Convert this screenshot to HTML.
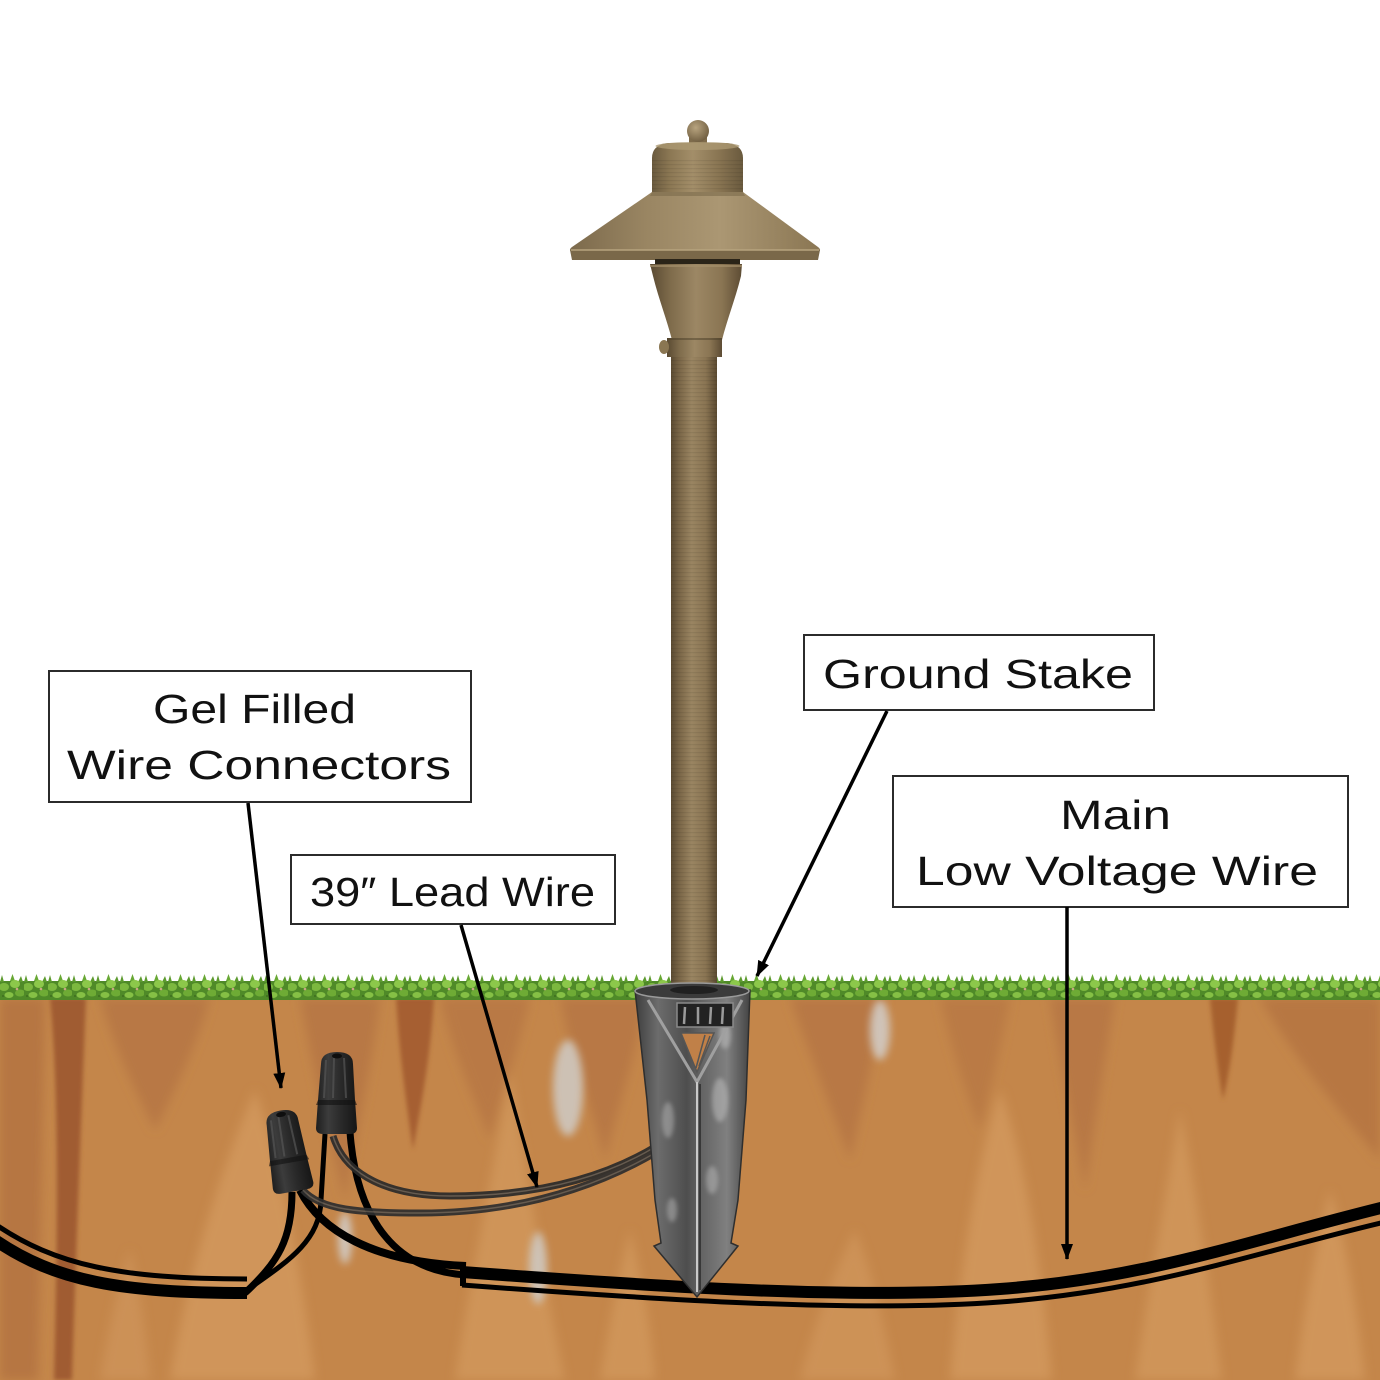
<!DOCTYPE html>
<html>
<head>
<meta charset="utf-8">
<style>
  html,body{margin:0;padding:0;background:#fff;}
  svg{display:block;}
  text{font-family:"Liberation Sans", Arial, sans-serif; fill:#111;}
</style>
</head>
<body>
<svg width="1380" height="1380" viewBox="0 0 1380 1380" xmlns="http://www.w3.org/2000/svg">
  <defs>
    <linearGradient id="brassH" x1="0" y1="0" x2="1" y2="0">
      <stop offset="0" stop-color="#5a4a32"/>
      <stop offset="0.22" stop-color="#7e6b4b"/>
      <stop offset="0.5" stop-color="#9c8764"/>
      <stop offset="0.78" stop-color="#8a7553"/>
      <stop offset="1" stop-color="#5d4c34"/>
    </linearGradient>
    <linearGradient id="capG" x1="0" y1="0" x2="1" y2="0">
      <stop offset="0" stop-color="#6a5a3e"/>
      <stop offset="0.2" stop-color="#8c7854"/>
      <stop offset="0.45" stop-color="#a38e69"/>
      <stop offset="0.75" stop-color="#877351"/>
      <stop offset="1" stop-color="#6a5a3e"/>
    </linearGradient>
    <linearGradient id="shadeG" x1="0" y1="0" x2="1" y2="0">
      <stop offset="0" stop-color="#7c6a4c"/>
      <stop offset="0.3" stop-color="#998562"/>
      <stop offset="0.6" stop-color="#ab9773"/>
      <stop offset="1" stop-color="#8a7653"/>
    </linearGradient>
    <linearGradient id="poleG" x1="0" y1="0" x2="1" y2="0">
      <stop offset="0" stop-color="#5b4b32"/>
      <stop offset="0.18" stop-color="#7a6647"/>
      <stop offset="0.45" stop-color="#9a8562"/>
      <stop offset="0.75" stop-color="#8a7553"/>
      <stop offset="1" stop-color="#5c4b32"/>
    </linearGradient>
    <radialGradient id="knobG" cx="0.4" cy="0.35" r="0.7">
      <stop offset="0" stop-color="#b8a47f"/>
      <stop offset="1" stop-color="#6e5c3f"/>
    </radialGradient>
    <pattern id="ridges" width="6" height="4" patternUnits="userSpaceOnUse">
      <rect x="0" y="0" width="6" height="1.2" fill="#000" opacity="0.07"/>
    </pattern>
    <linearGradient id="steelG" x1="0" y1="0" x2="1" y2="0">
      <stop offset="0" stop-color="#3e3e3e"/>
      <stop offset="0.2" stop-color="#6c6c6c"/>
      <stop offset="0.45" stop-color="#4e4e4e"/>
      <stop offset="0.55" stop-color="#606060"/>
      <stop offset="0.8" stop-color="#808080"/>
      <stop offset="1" stop-color="#444"/>
    </linearGradient>
    <linearGradient id="connG" x1="0" y1="0" x2="1" y2="0">
      <stop offset="0" stop-color="#1e1e1e"/>
      <stop offset="0.3" stop-color="#3c3c3c"/>
      <stop offset="0.6" stop-color="#2a2a2a"/>
      <stop offset="1" stop-color="#161616"/>
    </linearGradient>
    <pattern id="grass" x="0" y="972" width="24" height="28" patternUnits="userSpaceOnUse">
      <rect x="0" y="9" width="24" height="19" fill="#4f8a28"/>
      <polygon points="0,10 2,3 4,10" fill="#5c9a2e"/>
      <polygon points="10,9 12.5,2 15,9" fill="#68a834"/>
      <polygon points="18,10 21,4 23,10" fill="#5c9a2e"/>
      <ellipse cx="4" cy="15" rx="5" ry="4" fill="#7cb83f"/>
      <ellipse cx="15" cy="12" rx="5" ry="4" fill="#8cc84a"/>
      <ellipse cx="20" cy="21" rx="5" ry="3.5" fill="#6eab35"/>
      <ellipse cx="9" cy="23" rx="4.5" ry="3" fill="#85c045"/>
      <circle cx="17" cy="17" r="1.3" fill="#c9a784"/>
      <circle cx="3" cy="24" r="1" fill="#3d6e1e"/>
    </pattern>
    <filter id="blur2"><feGaussianBlur stdDeviation="2"/></filter>
    <filter id="blur5"><feGaussianBlur stdDeviation="5"/></filter>
    <filter id="blur4"><feGaussianBlur stdDeviation="4"/></filter>
    <marker id="ah" markerUnits="userSpaceOnUse" markerWidth="16" markerHeight="14" refX="15" refY="6" orient="auto">
      <path d="M0,0 L16,6 L0,12 Z" fill="#000"/>
    </marker>
    <g id="conn">
      <path d="M321,1064 Q321,1052 337,1052 Q353,1052 353,1064 L355,1100 L357,1128 Q357,1134 350,1134 L323,1134 Q316,1134 316,1128 L318,1100 Z" fill="url(#connG)"/>
      <path d="M318,1100 L355,1100 L357,1105 L316,1105 Z" fill="#111" opacity="0.6"/>
      <path d="M326,1060 L324,1098 M334,1058 L333,1098 M344,1058 L346,1098" stroke="#555" stroke-width="2" opacity="0.7"/>
      <ellipse cx="337" cy="1056" rx="5" ry="2.5" fill="#0e0e0e"/>
    </g>
  </defs>

  <!-- background -->
  <rect x="0" y="0" width="1380" height="1380" fill="#ffffff"/>

  <!-- soil -->
  <rect x="0" y="995" width="1380" height="385" fill="#c4864a"/>
  <g filter="url(#blur5)">
    <path d="M0,998 L45,998 C42,1150 40,1250 38,1380 L0,1380 Z" fill="#b67643"/>
    <path d="M100,998 L210,998 C195,1050 175,1090 155,1130 C135,1090 115,1050 100,998 Z" fill="#b87844"/>
    <path d="M300,998 L380,998 C370,1080 355,1140 345,1200 C330,1140 315,1080 300,998 Z" fill="#b87844"/>
    <path d="M440,998 L530,998 C515,1060 500,1100 490,1140 C475,1100 455,1060 440,998 Z" fill="#b97945"/>
    <path d="M560,998 L645,998 C635,1060 620,1100 605,1160 C590,1100 572,1060 560,998 Z" fill="#b87844"/>
    <path d="M790,998 L885,998 C872,1060 862,1110 850,1160 C832,1110 812,1060 790,998 Z" fill="#b87844"/>
    <path d="M940,998 L1010,998 C1000,1050 990,1090 980,1130 C965,1090 952,1050 940,998 Z" fill="#ba7a45"/>
    <path d="M1050,998 L1115,998 C1105,1060 1095,1120 1085,1190 C1072,1120 1060,1060 1050,998 Z" fill="#b87844"/>
    <path d="M1260,998 L1380,998 L1380,1160 C1340,1110 1295,1060 1260,998 Z" fill="#b77743"/>
    <path d="M170,1380 C190,1260 225,1160 255,1090 C280,1160 300,1260 315,1380 Z" fill="#d0955a"/>
    <path d="M455,1380 C468,1290 490,1190 510,1070 C530,1190 545,1290 565,1380 Z" fill="#cf9458"/>
    <path d="M600,1380 C610,1320 620,1270 630,1230 C640,1270 650,1320 655,1380 Z" fill="#cf9458"/>
    <path d="M800,1380 C815,1320 835,1270 855,1230 C875,1280 885,1330 895,1380 Z" fill="#cd9256"/>
    <path d="M950,1380 C962,1250 980,1150 1000,1090 C1022,1150 1040,1250 1052,1380 Z" fill="#d0955a"/>
    <path d="M1135,1380 C1148,1290 1165,1200 1180,1110 C1198,1200 1210,1290 1222,1380 Z" fill="#cf9458"/>
    <path d="M1295,1380 C1305,1300 1318,1240 1330,1190 C1345,1240 1356,1300 1365,1380 Z" fill="#d0955a"/>
    <path d="M100,1380 C110,1320 120,1280 130,1250 C140,1290 145,1330 150,1380 Z" fill="#cc9156"/>
  </g>
  <g filter="url(#blur2)">
    <path d="M50,998 L86,998 C82,1100 76,1250 72,1380 L54,1380 C57,1250 60,1100 50,998 Z" fill="#a05c31"/>
    <path d="M396,998 L434,998 C430,1060 422,1100 413,1150 C406,1100 400,1060 396,998 Z" fill="#a65f31"/>
    <path d="M1210,998 L1238,998 C1234,1040 1230,1070 1223,1100 C1217,1065 1213,1030 1210,998 Z" fill="#a6602f"/>
  </g>
  <!-- stones -->
  <g filter="url(#blur4)" opacity="0.9">
    <ellipse cx="568" cy="1088" rx="15" ry="48" fill="#cfc8c0"/>
    <ellipse cx="880" cy="1030" rx="10" ry="30" fill="#d2cbc4"/>
    <ellipse cx="538" cy="1268" rx="9" ry="36" fill="#cfc8c0"/>
    <ellipse cx="345" cy="1238" rx="7" ry="26" fill="#d2cbc4"/>
  </g>

  <!-- grass -->
  <rect x="0" y="972" width="1380" height="28" fill="url(#grass)"/>

  <!-- LAMP -->
  <rect x="671" y="355" width="46" height="640" fill="url(#poleG)"/>
  <rect x="671" y="355" width="46" height="640" fill="url(#ridges)"/>
  <rect x="689" y="136" width="18" height="10" fill="#7e6b4b"/>
  <circle cx="698" cy="131" r="11" fill="url(#knobG)"/>
  <path d="M652,196 L652,158 Q652,145 668,143 L727,143 Q743,145 743,158 L743,196 Z" fill="url(#capG)"/>
  <ellipse cx="697.5" cy="146" rx="42" ry="4" fill="#ab9872" opacity="0.8"/>
  <rect x="652" y="160" width="91" height="30" fill="url(#ridges)"/>
  <path d="M652,192 L743,192 L818,247 Q822,250 818,252 L572,252 Q568,250 572,247 Z" fill="url(#shadeG)"/>
  <path d="M652,192 L743,192 L745,196 L650,196 Z" fill="#7c6a4b" opacity="0.6"/>
  <path d="M570,250 L820,250 L818,260 L572,260 Z" fill="#7a6849"/>
  <path d="M571,250 L819,250" stroke="#b7a47f" stroke-width="1.5"/>
  <rect x="655" y="259" width="85" height="6" fill="#2a2418"/>
  <path d="M650,264 L742,264 L741,276 C735,300 727,320 722,340 L672,340 C667,320 659,300 653,276 Z" fill="url(#brassH)"/>
  <path d="M650,266 L742,266" stroke="#a48f6a" stroke-width="2" opacity="0.7"/>
  <rect x="667" y="338" width="55" height="19" fill="url(#brassH)"/>
  <rect x="667" y="338" width="55" height="2" fill="#4c3f2a" opacity="0.5"/>
  <ellipse cx="664" cy="347" rx="5" ry="7" fill="#8a7652"/>

  <!-- WIRES -->
  <path d="M-5,1224 C55,1265 120,1279 247,1279" fill="none" stroke="#000" stroke-width="5"/>
  <path d="M-5,1240 C55,1281 120,1293 247,1293" fill="none" stroke="#000" stroke-width="12"/>
  <path d="M245,1293 C278,1262 292,1240 292,1192" fill="none" stroke="#000" stroke-width="7"/>
  <path d="M250,1288 C290,1260 320,1240 321,1200 L325,1134" fill="none" stroke="#000" stroke-width="5"/>
  <path d="M300,1190 C320,1230 372,1262 466,1266" fill="none" stroke="#000" stroke-width="8"/>
  <path d="M350,1132 C355,1200 382,1270 466,1275" fill="none" stroke="#000" stroke-width="7"/>
  <path d="M462,1272 C650,1286 850,1300 1000,1289 S1250,1240 1385,1207" fill="none" stroke="#000" stroke-width="12"/>
  <path d="M462,1285 C650,1299 850,1313 1000,1302 S1250,1254 1385,1222" fill="none" stroke="#000" stroke-width="5"/>
  <rect x="460" y="1264" width="6" height="22" fill="#000"/>

  <!-- lead wires -->
  <g fill="none" opacity="0.92">
    <path d="M655,1147 C600,1180 530,1196 450,1196 C390,1196 345,1176 333,1136" stroke="#2a2a2a" stroke-width="7"/>
    <path d="M655,1147 C600,1180 530,1196 450,1196 C390,1196 345,1176 333,1136" stroke="#5f5850" stroke-width="1.5"/>
    <path d="M655,1153 C580,1196 500,1213 420,1213 C360,1213 320,1210 303,1190" stroke="#2e2e2e" stroke-width="7"/>
    <path d="M655,1153 C580,1196 500,1213 420,1213 C360,1213 320,1210 303,1190" stroke="#5f5850" stroke-width="1.5"/>
  </g>

  <!-- connectors -->
  <use href="#conn"/>
  <g transform="translate(287,1151) rotate(-10) translate(-336.5,-1093)">
    <use href="#conn"/>
  </g>

  <!-- STAKE -->
  <path d="M635,990 L750,990 L746,1100 L738,1200 L731,1243 L738,1246 L697,1297 L654,1246 L661,1243 L655,1200 L647,1100 Z" fill="url(#steelG)" stroke="#2e2e2e" stroke-width="1.5"/>
  <g opacity="0.35" filter="url(#blur2)">
    <ellipse cx="668" cy="1120" rx="6" ry="18" fill="#ddd"/>
    <ellipse cx="720" cy="1100" rx="8" ry="22" fill="#e5e5e5"/>
    <ellipse cx="712" cy="1180" rx="6" ry="14" fill="#ddd"/>
    <ellipse cx="672" cy="1210" rx="5" ry="12" fill="#ddd"/>
    <ellipse cx="725" cy="1035" rx="6" ry="14" fill="#e5e5e5"/>
  </g>
  <path d="M648,1000 L697,1082 L742,1000" fill="none" stroke="#a0a0a0" stroke-width="3"/>
  <path d="M697,1082 L697,1292" stroke="#c9c9c9" stroke-width="2"/>
  <path d="M700,1084 L700,1290" stroke="#2a2a2a" stroke-width="1.5"/>
  <rect x="677" y="1003" width="56" height="24" fill="#222" stroke="#8a8a8a" stroke-width="1.5"/>
  <path d="M685,1007 L684,1024 M698,1007 L698,1024 M711,1007 L710,1024 M723,1007 L722,1024" stroke="#9a9a9a" stroke-width="2.5"/>
  <polygon points="681,1033 714,1033 697,1072" fill="#c08048" stroke="#555" stroke-width="1.5"/>
  <path d="M705,1035 L696,1068 M710,1036 L699,1066" stroke="#555" stroke-width="1.5"/>
  <ellipse cx="692" cy="991" rx="57" ry="8" fill="#3b3b3b" stroke="#9a9a9a" stroke-width="1.5"/>
  <ellipse cx="694" cy="990" rx="24" ry="4" fill="#202020"/>

  <!-- LABEL BOXES -->
  <g fill="#fff" stroke="#2b2b2b" stroke-width="2">
    <rect x="49" y="671" width="422" height="131"/>
    <rect x="804" y="635" width="350" height="75"/>
    <rect x="291" y="855" width="324" height="69"/>
    <rect x="893" y="776" width="455" height="131"/>
  </g>
  <g font-size="41">
    <text x="153" y="723" textLength="203" lengthAdjust="spacingAndGlyphs">Gel Filled</text>
    <text x="67" y="779" textLength="384" lengthAdjust="spacingAndGlyphs">Wire Connectors</text>
    <text x="823" y="688" textLength="310" lengthAdjust="spacingAndGlyphs">Ground Stake</text>
    <text x="310" y="906" textLength="285" lengthAdjust="spacingAndGlyphs">39″ Lead Wire</text>
    <text x="1060" y="829" textLength="111" lengthAdjust="spacingAndGlyphs">Main</text>
    <text x="916" y="885" textLength="402" lengthAdjust="spacingAndGlyphs">Low Voltage Wire</text>
  </g>

  <!-- ARROWS -->
  <g stroke="#000" stroke-width="3.5" fill="none" marker-end="url(#ah)">
    <path d="M248,803 L281,1088"/>
    <path d="M461,925 L537,1187"/>
    <path d="M887,711 L757,976"/>
    <path d="M1067,907 L1067,1259"/>
  </g>
</svg>
</body>
</html>
